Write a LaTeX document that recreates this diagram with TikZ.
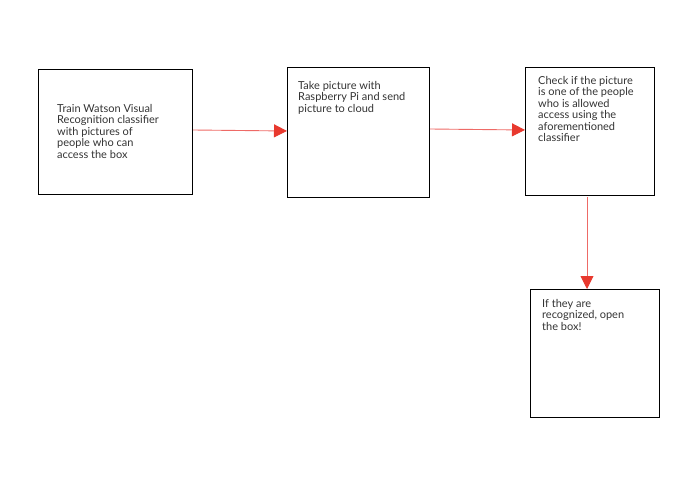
\documentclass[tikz,border=0pt]{standalone}
\usepackage{fontspec}
\setmainfont{Lato}
\usetikzlibrary{arrows.meta}
\definecolor{arrred}{HTML}{E8392E}
\definecolor{linered}{HTML}{EE6A66}
\begin{document}
\begin{tikzpicture}[x=1pt,y=-1pt,
  box/.style={draw,line width=1pt},
  txt/.style={anchor=north west,align=left,inner sep=0pt,font=\fontsize{11}{11.5}\selectfont,text=black!80},
  arr/.style={draw=linered,line width=0.9pt,-{Triangle[length=13pt,width=13pt,fill=arrred,color=arrred]}}]
\useasboundingbox (0,0) rectangle (695,494);
\draw[box] (38,70) rectangle (192,195);
\draw[box] (287,68) rectangle (429,198);
\draw[box] (525,68) rectangle (654,196);
\draw[box] (530,289) rectangle (659,417);
\node[txt] (t1) at (57,104) {Train Watson Visual\\Recognition classifier\\with pictures of\\people who can\\access the box};
\node[txt] (t2) at (298,81) {Take picture with\\Raspberry Pi and send\\picture to cloud};
\node[txt] (t3) at (538,76) {Check if the picture\\is one of the people\\who is allowed\\access using the\\aforementioned\\classifier};
\node[txt] (t4) at (542,299) {If they are\\recognized, open\\the box!};
\coordinate (a1) at (193,130); \coordinate (a2) at (287,131);
\coordinate (c1) at (430,129); \coordinate (c2) at (525,130);
\coordinate (d1) at (587,197); \coordinate (d2) at (587,289);
\draw[arr] (a1) -- (a2);
\draw[arr] (c1) -- (c2);
\draw[arr] (d1) -- (d2);
\end{tikzpicture}
\end{document}
